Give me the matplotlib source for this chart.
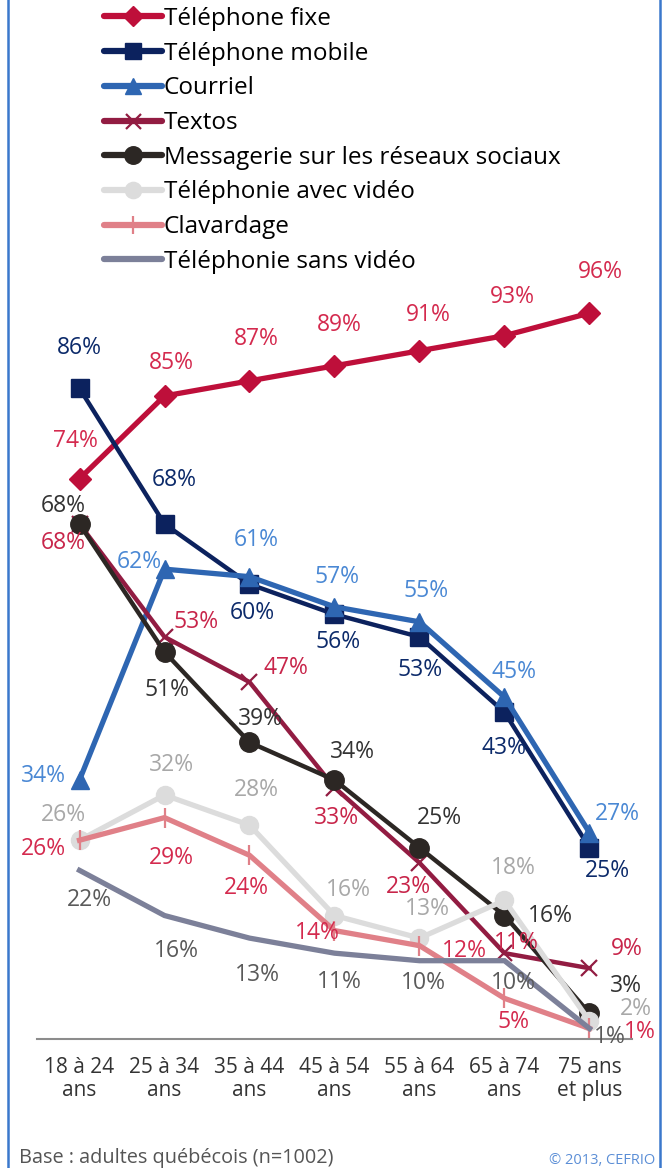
import matplotlib.pyplot as plt
from matplotlib.lines import Line2D

plt.rcParams['font.family'] = ['Open Sans', 'DejaVu Sans']

ages = ["18 à 24\nans", "25 à 34\nans", "35 à 44\nans", "45 à 54\nans",
        "55 à 64\nans", "65 à 74\nans", "75 ans\net plus"]

fixe = [74, 85, 87, 89, 91, 93, 96]
mobile = [86, 68, 60, 56, 53, 43, 25]
courriel = [34, 62, 61, 57, 55, 45, 27]
textos = [68, 53, 47, 33, 23, 11, 9]
messagerie = [68, 51, 39, 34, 25, 16, 3]
avec_video = [26, 32, 28, 16, 13, 18, 2]
clavardage = [26, 29, 24, 14, 12, 5, 1]
sans_video = [22, 16, 13, 11, 10, 10, 1]

# label offsets in pixels (dx, dy), dy positive = up
off_fixe = [(-4, 38), (7, 33), (7, 42), (5, 41), (9, 36), (8, 39), (11, 41)]
off_mobile = [(0, 40), (10, 44), (3, -29), (4, -28), (1, -33), (0, -36), (18, -23)]
off_courriel = [(-36, 4), (-25, 7), (7, 37), (3, 30), (7, 31), (10, 25), (28, 19)]
off_textos = [(-16, -19), (32, 15), (36, 14), (2, -30), (-11, -24), (12, 10), (37, 19)]
off_messagerie = [(-16, 18), (3, -38), (11, 23), (18, 28), (20, 30), (46, 0), (36, 27)]
off_avec = [(-16, 25), (7, 30), (7, 35), (14, 26), (8, 29), (9, 32), (46, 12)]
off_clav = [(-36, -9), (7, -40), (-3, -33), (-17, -2), (45, -5), (9, -24), (50, -4)]
off_sans = [(10, -30), (12, -35), (8, -37), (5, -29), (4, -22), (9, -22), (20, -9)]

series = [
    ("Téléphone fixe", fixe, "#BE0F3A", "#D42A4E", "D", 11, 3.8, off_fixe),
    ("Téléphone mobile", mobile, "#0C225E", "#0C2A6A", "s", 13, 3.2, off_mobile),
    ("Courriel", courriel, "#2E66B2", "#4A88D4", "^", 13, 3.8, off_courriel),
    ("Textos", textos, "#921C42", "#C8254A", "x", 12, 3.2, off_textos),
    ("Messagerie sur les réseaux sociaux", messagerie, "#2C2724", "#333333", "o", 14, 3.2, off_messagerie),
    ("Téléphonie avec vidéo", avec_video, "#DCDCDC", "#A8A8A8", "o", 13, 3.8, off_avec),
    ("Clavardage", clavardage, "#E08088", "#D42A4E", "|", 14, 3.8, off_clav),
    ("Téléphonie sans vidéo", sans_video, "#7C8099", "#5A5A5A", None, 0, 3.8, off_sans),
]

fig = plt.figure(figsize=(6.67, 11.68), dpi=100)
ax = fig.add_axes([37 / 667, 132 / 1168, 595 / 667, 753 / 1168])
x = list(range(len(ages)))

handles = []
for name, vals, col, lcol, mk, ms, lw, offs in series:
    mew = 1.6 if mk in ("x", "|") else 1
    ax.plot(x, vals, color=col, lw=lw, marker=mk, ms=ms, mew=mew,
            mec=col, mfc=col, clip_on=False, solid_joinstyle="miter")
    handles.append(Line2D([], [], color=col, lw=4.5, marker=mk, ms=ms * 0.9,
                          mew=mew, mec=col, mfc=col, solid_capstyle="round"))
    for xi, v, (dx, dy) in zip(x, vals, offs):
        ax.annotate(f"{v}%", (xi, v), xytext=(dx * 0.72, dy * 0.72),
                    textcoords="offset points", ha="center", va="center",
                    fontsize=16.5, color=lcol)

ax.set_xlim(-0.5, 6.5)
ax.set_ylim(0, 100)
for s in ["top", "right", "left"]:
    ax.spines[s].set_visible(False)
ax.spines["bottom"].set_color("#8C8C8C")
ax.spines["bottom"].set_linewidth(1.5)
ax.spines["bottom"].set_position(("data", -0.4))
ax.set_yticks([])
ax.set_xticks(x)
ax.set_xticklabels(ages, fontsize=15, color="#333333", linespacing=1.15)
ax.tick_params(axis="x", length=0, pad=13)

fig.legend(handles, [s[0] for s in series], loc="upper left",
           bbox_to_anchor=(104 / 667, 1 - 7 / 1168), frameon=False,
           handlelength=2.4, handletextpad=0.05,
           labelspacing=0.44, borderpad=0, borderaxespad=0,
           prop={"size": 17.5})

fig.text(19 / 667, 1 - 1158 / 1168, "Base : adultes québécois (n=1002)",
         fontsize=14.3, color="#555555", va="center")
fig.text(655 / 667, 1 - 1160 / 1168, "© 2013, CEFRIO", fontsize=10.5,
         color="#5B8ED6", ha="right", va="center")

for xe in (7.5 / 667, 659.5 / 667):
    fig.add_artist(Line2D([xe, xe], [0, 1], color="#3A78CC", lw=1.8,
                          transform=fig.transFigure))

fig.savefig("out.png", dpi=100)
